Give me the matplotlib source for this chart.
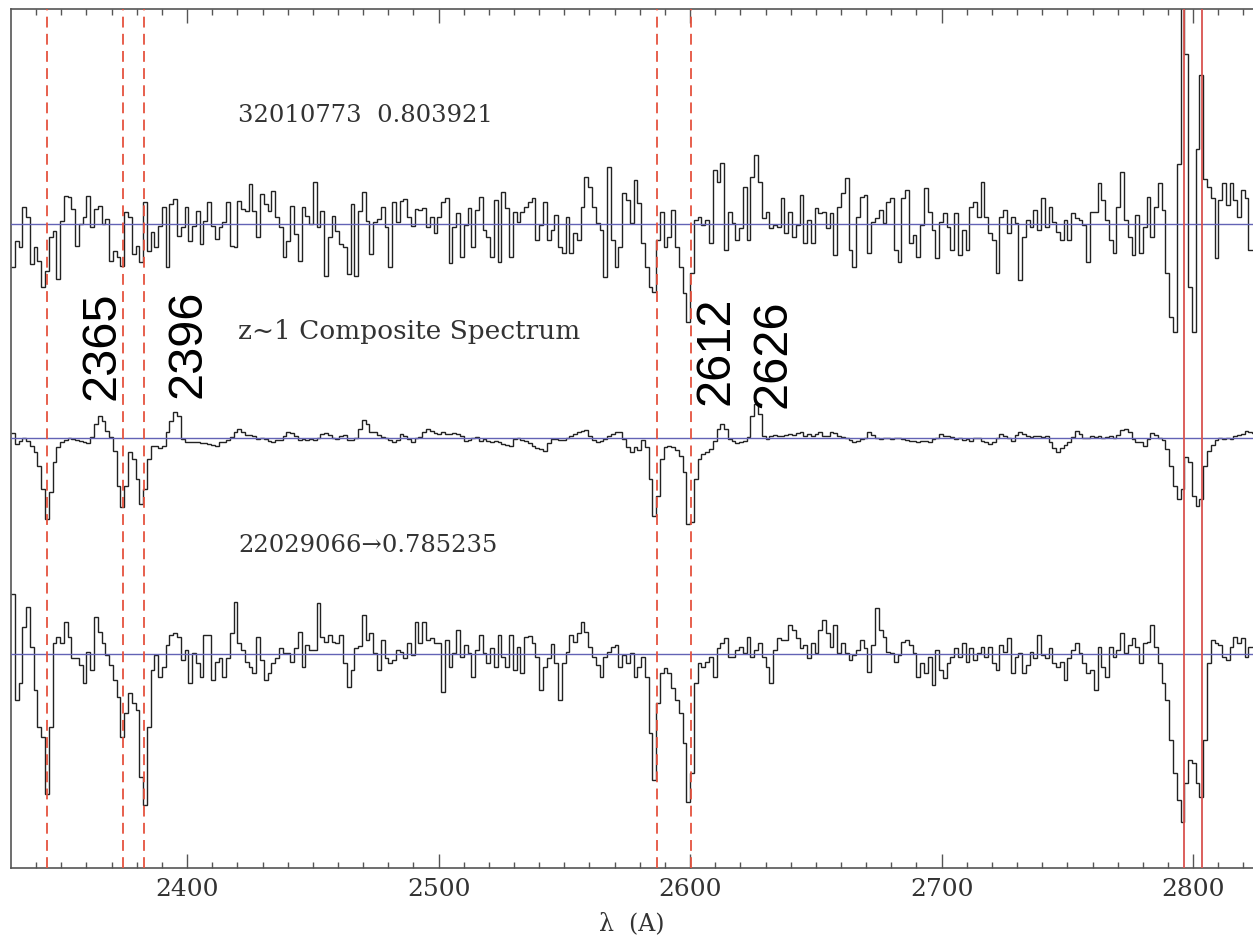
import numpy as np
import matplotlib.pyplot as plt

# wavelength grid (Angstrom), 1.5 A bins
wave_start = 2330.0
wave_step = 1.5

# flux relative to the local continuum (arbitrary units, x0.01)
flux_32010773 = [
    -43, -17, -23, 17, 7, -40, -23, -37, -63, -47, -13, -7, -55, 3, 28, 27, 15, -22, 0, 7,
    28, -3, 15, 18, 0, 5, -37, -27, -33, -42, 12, 7, -30, -22, -38, 22, -27, -8, -23, -2,
    17, -43, 20, 25, -12, -3, 17, -17, -2, 13, -20, 3, 22, -2, -15, -3, 2, 22, -22, -23,
    23, 15, 13, 40, 13, -13, 30, 20, 13, 33, 7, -3, -33, -17, 18, -10, -37, 17, 8, 0,
    42, -3, 13, -52, -13, 8, -7, -20, -23, -50, 20, -52, 13, 32, 3, -30, 2, 5, 17, -3,
    -43, 22, 2, 23, 25, 7, -2, 15, 14, 16, -3, 7, -9, 7, 22, 26, -39, -3, 11, -33,
    -1, 16, -23, 14, 27, -6, -13, -33, 24, -38, 32, 16, -33, 12, 2, 12, 17, 22, 26, -16,
    -1, 22, -16, -6, 9, -23, -29, 7, -29, -9, -16, 17, 47, 37, 17, 1, -6, -53, 57, -16,
    -43, -23, 31, 24, 1, 44, 21, -19, -43, -63, -68, -16, 12, -23, -13, 14, -23, -43, -69, -98,
    -49, 4, 7, -1, 4, -19, 54, 42, 61, -26, 12, 1, -16, -4, 37, -16, 47, 69, 42, 6,
    12, -4, -1, -3, 26, -9, 12, -13, -1, 29, -19, 4, -19, 16, 11, 12, -4, 11, -31, 17,
    31, 46, -26, -43, 7, 27, 29, -29, 2, 6, 14, 1, 22, 26, -26, -38, 26, 34, -19, -11,
    -33, -1, 36, 12, -6, -34, 2, 11, -3, -26, 11, -31, -6, -26, 17, 22, 7, 42, 7, -9,
    -16, -49, 7, 14, -9, 7, 1, -56, -13, 4, -3, 14, -6, 26, -3, 17, 2, -8, -16, 4,
    -16, 11, 6, 4, -1, -38, 12, 12, 41, 24, 4, -16, -29, 17, 52, 4, -13, -31, 9, -29,
    -3, 27, -13, 17, 41, 14, -49, -93, -108, 60, 240, 170, -63, -108, 75, 149, 45, 37, 26, -34,
    24, 41, 19, 41, 24, 7, 34, 26, -26, -26,
]

flux_composite = [
    5, -6, -3, 0, -3, -8, -14, -28, -51, -81, -54, -24, -9, -4, -2, 0, -1, -2, -3, -4,
    -5, 1, 14, 22, 17, 7, 1, -13, -48, -69, -48, -14, -21, -41, -66, -51, -21, -8, -8, -10,
    -8, 6, 17, 26, 22, -1, -4, -4, -4, -4, -5, -5, -6, -7, -8, -4, -4, -2, 1, 6,
    9, 6, 3, 3, 2, -1, 0, -1, -3, -4, -2, -2, 2, 6, 5, 2, -2, -1, -2, -1,
    -2, 0, 4, 5, 3, 0, -1, 2, 3, -2, -2, 0, 9, 18, 14, 6, 6, 3, 1, 0,
    -2, -4, -2, 4, 2, -1, -4, 0, 1, 6, 9, 7, 5, 4, 6, 4, 4, 5, 4, 2,
    -3, -2, 0, 1, -3, -1, -3, -4, -3, -4, -6, -7, -8, -1, 0, -2, -3, -5, -8, -10,
    -11, -13, -5, -1, -1, -2, -2, 0, 2, 4, 6, 7, 8, 2, -2, -4, -3, -1, 2, 4,
    6, 6, -1, -9, -14, -9, -12, -2, -9, -41, -78, -58, -21, -9, -8, -9, -12, -18, -34, -86,
    -84, -41, -21, -16, -14, -11, -3, 9, 14, 9, -1, -3, -5, -4, -3, 1, 22, 34, 24, 2,
    -1, 2, 3, 2, 2, 3, 4, 3, 5, 6, 2, 4, 2, 4, 6, 2, 2, 6, 5, 2,
    1, 0, -2, -4, -3, -1, 0, 6, 3, 0, -1, 0, 0, -1, 0, 0, -1, -2, -3, -3,
    -4, -3, -3, -4, -1, 0, 4, 2, 2, 1, -1, 0, -2, -1, -3, 0, 0, -3, -4, -6,
    -4, 0, 4, 2, 0, -3, 3, 6, 4, 2, 1, 2, 2, 1, 2, -4, -10, -14, -10, -7,
    -4, 1, 7, 4, 0, 0, 2, 1, 2, 0, 1, 2, 0, 3, 8, 9, 6, -1, -4, -4,
    -8, -1, 5, 3, 0, -2, -11, -28, -48, -61, -51, -19, -24, -58, -68, -61, -28, -13, -7, -2,
    0, -1, 0, -1, 2, 3, 4, 7, 6, 5,
]

flux_22029066 = [
    60, -46, -29, 27, 47, 7, -36, -73, -83, -140, -73, 11, 17, 11, 32, 17, -4, -4, -11, -29,
    2, -16, 37, 22, 11, -1, -11, -26, -43, -83, -59, -39, -49, -56, -123, -151, -73, -16, -1, -23,
    -13, 9, 19, 21, 17, -6, 4, -29, 1, -9, -23, 19, 19, -26, -8, -4, -23, -4, 21, 52,
    11, 4, -8, -13, -19, 17, -6, -26, -19, -9, -4, 6, 1, 1, -8, 6, 22, -13, 9, 4,
    4, 51, 17, 12, 19, 12, 11, 19, -9, -33, -16, 6, 8, 39, 14, 21, 1, -16, 14, -4,
    -9, -6, 4, 2, -4, 11, -1, 32, 11, 32, 14, 16, 11, 11, -38, 14, -13, 1, 24, -3,
    9, 1, -23, 4, 19, 1, -9, 6, -13, 19, -3, -13, 19, -16, 7, -19, 17, 18, 11, -3,
    -36, -13, -4, 10, -9, -46, -9, 2, 19, 12, 21, 32, 22, 7, -3, -11, -23, -3, 2, 7,
    9, -13, -1, -9, 1, -23, -13, -3, -23, -79, -126, -49, -19, -14, -19, -34, -46, -59, -89, -148,
    -119, -29, -9, -13, -8, -3, -23, 6, 11, 16, -3, -3, 4, 7, 1, 17, -3, 4, 11, -3,
    -13, -29, 4, 16, 14, 14, 29, 24, 16, 6, 9, -4, 11, 1, 24, 34, 21, 7, 29, 1,
    11, 1, -6, -1, 4, 14, 6, -18, 9, 46, 24, 17, 2, 1, -8, -1, 12, 14, 9, 1,
    -23, -9, -19, -3, -31, 4, -16, -24, -9, -3, 6, -3, 11, -8, 6, -6, 1, 7, -3, 7,
    -9, -16, 9, 2, 16, -19, -3, 1, -19, -11, 2, -4, 19, -1, -4, 6, -9, -13, -8, -26,
    -4, 4, 11, 1, -9, -19, -16, -36, 7, -13, -23, 7, -3, 4, 21, 1, 9, 16, 7, -9,
    11, 12, 29, 7, -9, -29, -46, -86, -119, -146, -168, -129, -106, -109, -129, -143, -86, -9, 14, 11,
    9, -3, -6, 7, 17, 11, 16, -3, 7, 7,
]

# vertical offsets of the three spectra
offsets = [6.44, 4.30, 2.14]
spectra = [flux_32010773, flux_composite, flux_22029066]

# absorption lines (dashed = FeII, solid = MgII)
feii_lines = [2344.21, 2374.46, 2382.77, 2586.65, 2600.17]
mgii_lines = [2796.35, 2803.53]

# FeII* fluorescent emission labels
emis_labels = ["2365", "2396", "2612", "2626"]
emis_x = [2366.2, 2400.4, 2610.3, 2633.0]
emis_y = [4.68, 4.70, 4.63, 4.60]

names = ["32010773  0.803921", "z~1 Composite Spectrum", "22029066\u21920.785235"]
name_y = [7.52, 5.37, 3.22]
name_size = [17.5, 19, 17.5]

fig = plt.figure(figsize=(12.53, 9.41), dpi=100)
ax = fig.add_axes([11 / 1253, 73 / 941, 1242 / 1253, 859 / 941])

nbin = len(flux_composite)
edges = wave_start + wave_step * np.arange(nbin + 1)

for off, flux in zip(offsets, spectra):
    ax.stairs(off + np.array(flux) / 100.0, edges, baseline=None,
              color="#222222", lw=1.0, zorder=2)

for off in offsets:
    ax.axhline(off, color="#6363b5", lw=1.0, zorder=3)

for w in feii_lines:
    ax.axvline(w, color="#e5533f", lw=1.3, dashes=(6, 3.5), zorder=3)
for w in mgii_lines:
    ax.axvline(w, color="#d9534f", lw=1.3, zorder=3)

for lab, x, y in zip(emis_labels, emis_x, emis_y):
    ax.text(x, y, lab, rotation=90, ha="center", va="bottom",
            fontsize=35, family="Liberation Sans", color="black")

for txt, y, fs in zip(names, name_y, name_size):
    ax.text(2420.3, y, txt, ha="left", va="center", fontsize=fs,
            family="DejaVu Serif", color="#333333")

ax.set_xlim(2330, 2823.8)
ax.set_ylim(0, 8.59)
ax.set_xticks([2400, 2500, 2600, 2700, 2800])
ax.set_xticks(np.arange(2340, 2830, 10), minor=True)
ax.set_yticks([])
ax.tick_params(axis="x", which="both", direction="in", top=True, colors="#555555",
               labelcolor="#333333", labelsize=18, pad=7)
ax.tick_params(axis="x", which="major", length=10, width=1.0)
ax.tick_params(axis="x", which="minor", length=4.5, width=1.0)
for lab in ax.get_xticklabels():
    lab.set_family("DejaVu Serif")

for side in ["left", "top", "bottom"]:
    ax.spines[side].set_color("#555555")
    ax.spines[side].set_linewidth(1.2)
ax.spines["right"].set_visible(False)

ax.set_xlabel("\u03bb  (A)", fontsize=17, family="DejaVu Serif", color="#333333",
              labelpad=8)

fig.savefig("out.png", dpi=100)
